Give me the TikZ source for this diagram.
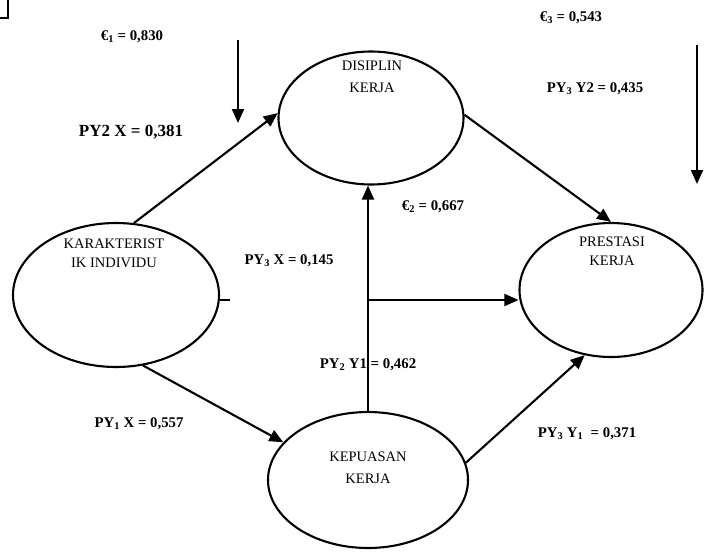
\documentclass[tikz,border=0pt]{standalone}
\usepackage{fontspec}
\setmainfont{Liberation Serif}
\usetikzlibrary{shapes.geometric,arrows.meta}
\tikzset{
  latent/.style={draw, line width=2.1pt, ellipse, inner sep=0pt},
  ntext/.style={font=\fontsize{14.5}{20}\selectfont, align=center, inner sep=0pt},
  coef/.style={font=\bfseries\fontsize{14.8}{16}\selectfont, inner sep=0pt},
  bigcoef/.style={font=\bfseries\fontsize{17}{19}\selectfont, inner sep=0pt},
  pathln/.style={line width=2.1pt, -{Triangle[length=14pt,width=12pt]}},
  plainln/.style={line width=2.1pt},
}
\begin{document}
\begin{tikzpicture}[x=1pt,y=-1pt]
\useasboundingbox (0,0) rectangle (709,552);
% corner mark
\coordinate (c1) at (8,0);
\coordinate (c2) at (8,18);
\coordinate (c3) at (0,18);
\draw[plainln] (c1) -- (c2) -- (c3);

% latent variables
\node[latent, minimum width=206, minimum height=144] (kar) at (116,295) {};
\node[latent, minimum width=185, minimum height=133] (dis) at (371,118) {};
\node[latent, minimum width=200, minimum height=136] (kep) at (368,480) {};
\node[latent, minimum width=183, minimum height=134] (pres) at (611,290) {};

\node[ntext, font=\fontsize{14.5}{19}\selectfont] (kart) at (114,253.5) {KARAKTERIST\\IK INDIVIDU};
\node[ntext, font=\fontsize{14.5}{22}\selectfont] (dist) at (372,77) {DISIPLIN\\KERJA};
\node[ntext, font=\fontsize{14.5}{22}\selectfont] (kept) at (368,468) {KEPUASAN\\KERJA};
\node[ntext, font=\fontsize{14.5}{19}\selectfont] (prest) at (612,251.5) {PRESTASI\\KERJA};

% paths
\draw[pathln] (kar.76) -- (dis.177);
\draw[pathln] (dis.2) -- (pres.90);
\draw[pathln] (kar.-69) -- (kep.156);
\draw[pathln] (kep.north) -- (kep.north |- dis.south);
\coordinate (j) at (368,300);
\draw[pathln] (j) -- (j -| pres.west);
\draw[pathln] (kep.10.5) -- (pres.248);
\draw[plainln] (kar.-3) -- ++(10,0);

% error arrows
\coordinate (e1a) at (238,40);
\coordinate (e1b) at (238,123);
\draw[pathln] (e1a) -- (e1b);
\coordinate (e3a) at (697,45);
\coordinate (e3b) at (697,184);
\draw[pathln] (e3a) -- (e3b);

% coefficients
\node[coef] (l1) at (132,37) {€\textsubscript{1} = 0,830};
\node[bigcoef] (l2) at (131,132) {PY2 X = 0,381};
\node[coef] (l3) at (571,18) {€\textsubscript{3} = 0,543};
\node[coef] (l4) at (595,89) {PY\textsubscript{3} Y2 = 0,435};
\node[coef] (l5) at (433,207) {€\textsubscript{2} = 0,667};
\node[coef] (l6) at (289,261) {PY\textsubscript{3} X = 0,145};
\node[coef] (l7) at (368,365) {PY\textsubscript{2} Y1 = 0,462};
\node[coef] (l8) at (139,424) {PY\textsubscript{1} X = 0,557};
\node[coef] (l9) at (587,434) {PY\textsubscript{3} Y\textsubscript{1}\ \ = 0,371};
\end{tikzpicture}
\end{document}
